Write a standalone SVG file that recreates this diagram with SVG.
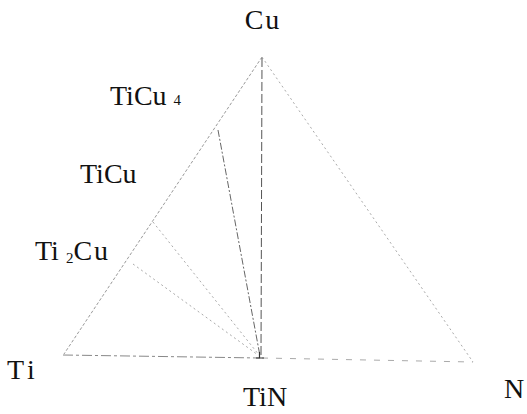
<svg xmlns="http://www.w3.org/2000/svg" width="527" height="414" viewBox="0 0 527 414">
<style>
.lbl{font-family:"Liberation Serif","Times New Roman",serif;font-size:28px;fill:#111}
.sub{font-size:15px}
.dot{fill:none;stroke:#999;stroke-width:1;stroke-dasharray:3 2}
.dotl{fill:none;stroke:#aaa;stroke-width:1;stroke-dasharray:2 3}
.dash{fill:none;stroke:#555;stroke-width:1;stroke-dasharray:9 3}
.dashd{fill:none;stroke:#666;stroke-width:1;stroke-dasharray:7 2 2 2}
.base{fill:none;stroke:#888;stroke-width:1;stroke-dasharray:10 3 3 3}
.basel{fill:none;stroke:#aaa;stroke-width:1;stroke-dasharray:6 8}
</style>
<rect width="527" height="414" fill="#fff"/>
<g id="connectors">
<line class="dot" x1="262" y1="57" x2="64" y2="354"/>
<line class="dotl" x1="262" y1="57" x2="473" y2="362"/>
<line class="base" x1="63" y1="355" x2="260" y2="358"/>
<line class="basel" x1="262" y1="358" x2="473" y2="362"/>
<line class="dash" x1="262" y1="58" x2="261" y2="356"/>
<line class="dashd" x1="218" y1="130" x2="260" y2="356"/>
<line class="dotl" x1="153" y1="222" x2="259" y2="355"/>
<line class="dotl" x1="133" y1="264" x2="258" y2="355"/>
<path d="M256 358 H264 M259.5 352 V358" fill="none" stroke="#333" stroke-width="1.2"/>
</g>
<g id="Cu"><text class="lbl" x="263" y="29" text-anchor="middle" letter-spacing="2">Cu</text></g>
<g id="TiCu4"><text class="lbl" x="110" y="105">TiCu<tspan class="sub" dx="7">4</tspan></text></g>
<g id="TiCu"><text class="lbl" x="80" y="183">TiCu</text></g>
<g id="Ti2Cu"><text class="lbl" x="35" y="260">Ti<tspan class="sub" dx="7" dy="3">2</tspan><tspan dy="-3" letter-spacing="2">Cu</tspan></text></g>
<g id="Ti"><text class="lbl" x="7" y="379" letter-spacing="4">Ti</text></g>
<g id="TiN"><text class="lbl" x="243" y="406">TiN</text></g>
<g id="N"><text class="lbl" x="504" y="398">N</text></g>
</svg>
